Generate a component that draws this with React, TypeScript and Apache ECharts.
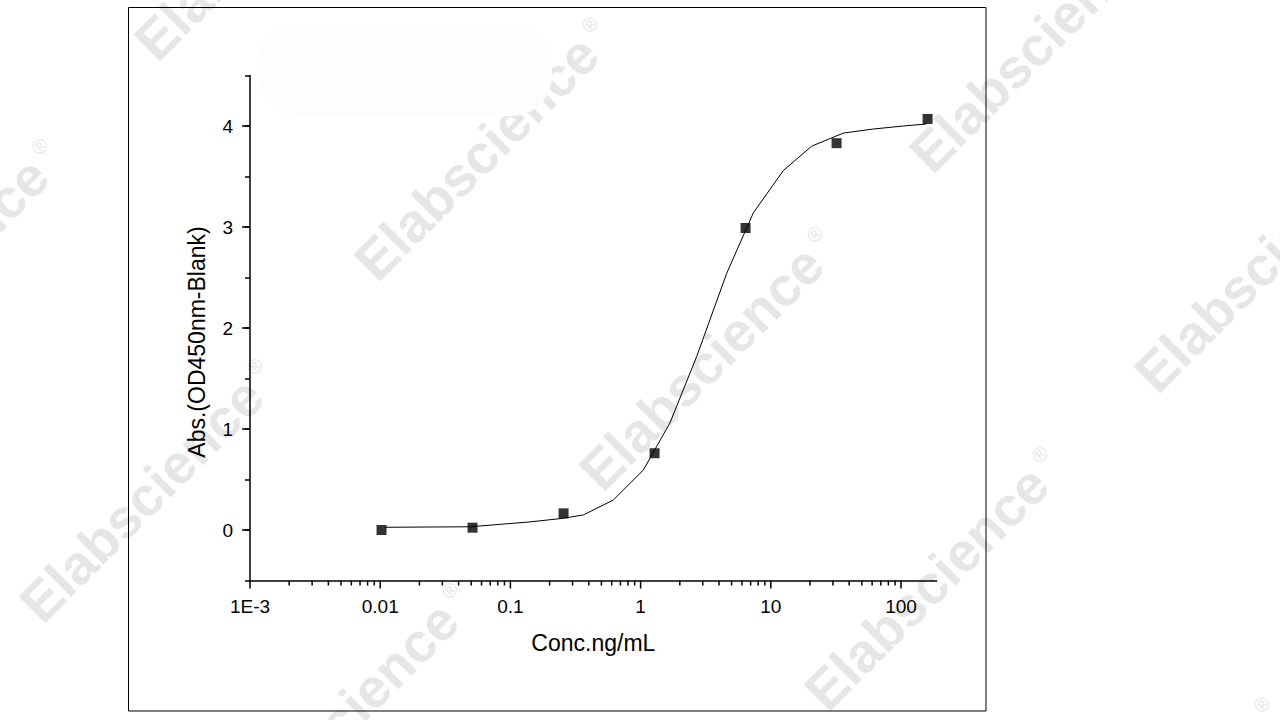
import React, { useEffect, useRef } from "react";
import * as echarts from "echarts";

// Measured standards (concentration in ng/mL, absorbance OD450 - blank)
const concentrations = [0.01024, 0.0512, 0.256, 1.28, 6.4, 32, 160];
const absorbance = [0.0, 0.023, 0.165, 0.76, 2.99, 3.83, 4.07];

// Fitted curve vertices
const fitConc = [0.0109, 0.049, 0.141, 0.255, 0.363, 0.617, 1.05, 1.68, 2.7, 4.58, 7.34, 12.5, 20.6, 36.1, 61.2, 104, 157];
const fitAbs = [0.027, 0.032, 0.08, 0.116, 0.149, 0.297, 0.594, 1.06, 1.72, 2.54, 3.14, 3.56, 3.8, 3.93, 3.97, 4.0, 4.02];

// Axes
const X_MIN = 0.001;
const X_MAX = 188;
const Y_MIN = -0.5;
const Y_MAX = 4.5;
const Y_INTERVAL = 0.5;
const xMajorTicks = [0.001, 0.01, 0.1, 1, 10, 100];
const xTickLabels = ["1E-3", "0.01", "0.1", "1", "10", "100"];
const xMinorMultipliers = [2, 3, 4, 5, 6, 7, 8, 9];
const yMajorTicks = [0, 1, 2, 3, 4];
const yTickLabels = ["0", "1", "2", "3", "4"];

const xTitle = "Conc.ng/mL";
const yTitle = "Abs.(OD450nm-Blank)";
const watermarkText = "Elabscience";

const FONT = "'Liberation Sans', Arial, sans-serif";

// watermark anchor points (decoration)
const watermarkAnchors: [number, number][] = [
  [158, 64], [378, 284], [603, 494], [828, 714], [1050, 964],
  [-172, 406], [43, 626], [238, 850], [933, 176], [1158, 396],
];

export default function App() {
  const ref = useRef<HTMLDivElement>(null);

  useEffect(() => {
    if (!ref.current) return;
    const chart = echarts.init(ref.current, undefined, { renderer: "svg" });

    const xMinorTicks: number[] = [];
    xMajorTicks.forEach((d) => {
      xMinorMultipliers.forEach((m) => {
        const v = d * m;
        if (v < X_MAX) xMinorTicks.push(v);
      });
    });

    const watermarks: any[] = watermarkAnchors.map(([x, y]) => ({
      type: "group",
      x,
      y,
      rotation: Math.PI / 4,
      z: -10,
      silent: true,
      children: [
        {
          type: "text",
          x: 0,
          y: 8,
          z: -10,
          style: {
            text: watermarkText,
            font: `bold 55px ${FONT}`,
            fill: "#e6e6e6",
            align: "left",
            verticalAlign: "bottom",
          },
        },
        {
          type: "text",
          x: 326,
          y: -34,
          z: -10,
          style: {
            text: "®",
            font: `20px ${FONT}`,
            fill: "#e6e6e6",
            align: "left",
            verticalAlign: "middle",
          },
        },
      ],
    }));

    const xLabel = (v: number) => {
      const i = xMajorTicks.findIndex((t) => Math.abs(Math.log10(t) - Math.log10(v)) < 1e-6);
      return i >= 0 ? xTickLabels[i] : "";
    };
    const yLabel = (v: number) => {
      const i = yMajorTicks.findIndex((t) => Math.abs(t - v) < 1e-6);
      return i >= 0 ? yTickLabels[i] : "";
    };

    const tickSeries = (data: number[][], dx: number, dy: number) => ({
      type: "custom",
      coordinateSystem: "cartesian2d",
      silent: true,
      clip: false,
      z: 4,
      data,
      renderItem: (_params: any, api: any) => {
        const p = api.coord([api.value(0), api.value(1)]);
        return {
          type: "line",
          shape: { x1: p[0], y1: p[1], x2: p[0] + dx, y2: p[1] + dy },
          style: { stroke: "#000", lineWidth: 1.5 },
        };
      },
    });

    chart.setOption({
      animation: false,
      backgroundColor: "#fff",
      textStyle: { fontFamily: FONT },
      grid: { left: 250, top: 75.5, right: 343.3, bottom: 139.5, containLabel: false },
      xAxis: {
        type: "log",
        logBase: 10,
        min: X_MIN,
        max: X_MAX,
        name: xTitle,
        nameLocation: "middle",
        nameGap: 51,
        nameTextStyle: { fontSize: 23, color: "#000", fontFamily: FONT },
        axisLine: { show: true, onZero: false, lineStyle: { color: "#000", width: 1.5 } },
        axisTick: { show: false },
        splitLine: { show: false },
        minorTick: { show: false },
        axisLabel: {
          show: true,
          formatter: xLabel,
          color: "#000",
          fontSize: 19,
          fontFamily: FONT,
          margin: 16,
          showMinLabel: true,
          showMaxLabel: false,
        },
      },
      yAxis: {
        type: "value",
        min: Y_MIN,
        max: Y_MAX,
        interval: Y_INTERVAL,
        name: yTitle,
        nameLocation: "middle",
        nameRotate: 90,
        nameGap: 42,
        nameTextStyle: { fontSize: 23, color: "#000", fontFamily: FONT, padding: [0, 28, 0, 0] },
        axisLine: { show: true, onZero: false, lineStyle: { color: "#000", width: 1.5 } },
        axisTick: { show: true, length: 5, lineStyle: { color: "#000", width: 1.5 } },
        splitLine: { show: false },
        axisLabel: {
          formatter: yLabel,
          color: "#000",
          fontSize: 19,
          fontFamily: FONT,
          margin: 17,
        },
      },
      graphic: [
        ...watermarks,
        {
          type: "rect",
          z: -5,
          silent: true,
          shape: { x: 258, y: 24, width: 294, height: 92, r: 40 },
          style: { fill: "#fdfdfd" },
        },
        {
          type: "rect",
          z: 10,
          silent: true,
          shape: { x: 128.5, y: 7.5, width: 857.5, height: 703.5 },
          style: { fill: "none", stroke: "#000", lineWidth: 1 },
        },
      ],
      series: [
        {
          type: "line",
          name: "fit",
          data: fitConc.map((c, i) => [c, fitAbs[i]]),
          showSymbol: false,
          smooth: false,
          lineStyle: { color: "#000", width: 1 },
          z: 3,
        },
        {
          type: "scatter",
          name: "standards",
          data: concentrations.map((c, i) => [c, absorbance[i]]),
          symbol: "rect",
          symbolSize: 10,
          itemStyle: { color: "#000" },
          z: 5,
        },
        tickSeries(xMajorTicks.map((v) => [v, Y_MIN]), 0, 8),
        tickSeries(xMinorTicks.map((v) => [v, Y_MIN]), 0, 5),
        tickSeries(yMajorTicks.map((v) => [X_MIN, v]), -8, 0),
      ],
    });

    return () => chart.dispose();
  }, []);

  return (
    <div
      ref={ref}
      style={{ position: "absolute", left: 0, top: 0, width: 1280, height: 720, background: "#fff" }}
    />
  );
}
